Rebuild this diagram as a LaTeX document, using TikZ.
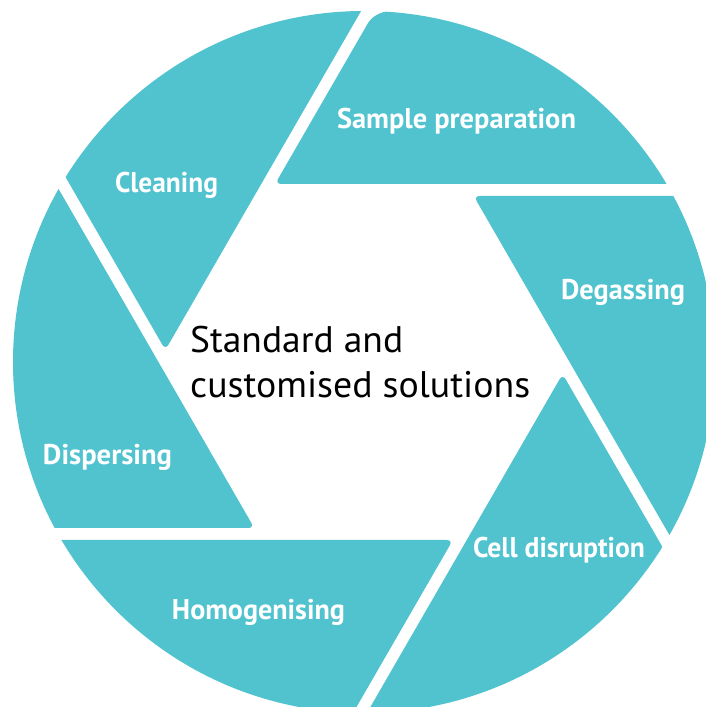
\documentclass[tikz,border=0pt]{standalone}
\usepackage{fontspec}
\setmainfont{PT Sans}
\usepackage{graphicx}
\definecolor{bladecol}{RGB}{80,195,207}
\tikzset{
  blade/.style={fill=bladecol, rounded corners=6pt},
  lbl/.style={text=white, font=\fontsize{28.5}{30}\selectfont\bfseries, inner sep=0pt, anchor=base},
  maintext/.style={text=black, font=\fontsize{37}{45}\selectfont, inner sep=0pt, anchor=base west}
}
\begin{document}
\begin{tikzpicture}[x=1pt,y=1pt]
\useasboundingbox (0,0) rectangle (705,707);
\coordinate (c) at (364,345);
\begin{scope}
  \clip (364,345) circle[radius=351pt];
  % Sample preparation blade (rounded outer corner)
  \begin{scope}
    \clip[rounded corners=14pt] (174.9,349.5) -- (374.9,695.9) -- (774.7,683.5) -- (800,300) -- cycle;
    \fill[blade] (275.09,523) -- (1175.09,523) -- (725.09,1302.4) -- cycle;
  \end{scope}
  % the other five blades
  \foreach \k in {1,...,5}{
    \begin{scope}[rotate around={-60*\k:(364,345)}]
      \fill[blade] (275.09,523) -- (1175.09,523) -- (725.09,1302.4) -- cycle;
    \end{scope}
  }
\end{scope}
\node[lbl] (sample) at (456.5,578) {\resizebox{239pt}{\height}{Sample preparation}};
\node[lbl] (cleaning) at (166.5,514) {\resizebox{103pt}{\height}{Cleaning}};
\node[lbl] (degassing) at (623,407) {\resizebox{124pt}{\height}{Degassing}};
\node[lbl] (dispersing) at (107.5,242) {\resizebox{129pt}{\height}{Dispersing}};
\node[lbl] (cell) at (559,149) {\resizebox{172pt}{\height}{Cell disruption}};
\node[lbl] (homog) at (258.5,87) {\resizebox{173pt}{\height}{Homogenising}};
\node[maintext] (title1) at (190,354) {\resizebox{213pt}{\height}{Standard and}};
\node[maintext] (title2) at (190,309) {\resizebox{340pt}{\height}{customised solutions}};
\end{tikzpicture}
\end{document}
